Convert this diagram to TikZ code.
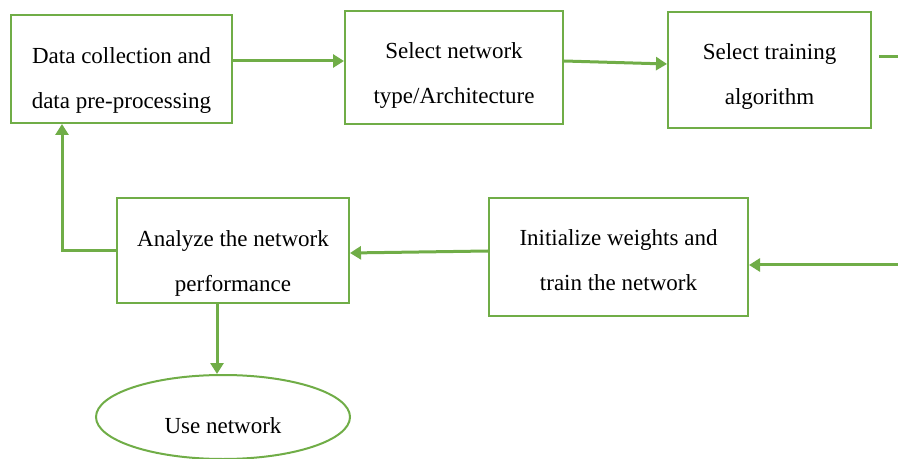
\documentclass[tikz,border=0pt]{standalone}
\usepackage{fontspec}
\setmainfont{Liberation Serif}
\usetikzlibrary{arrows.meta,shapes.geometric}
\definecolor{officegreen}{RGB}{112,173,71}
\newcommand{\dn}[1]{\rule{0pt}{#1}}
\tikzset{
	stepbox/.style={draw=officegreen, line width=1pt, fill=white, inner sep=0pt, align=center,
		font=\fontsize{11.5}{22.5}\selectfont},
	endbox/.style={stepbox, ellipse},
	arr/.style={draw=officegreen, line width=1.5pt, -{Triangle[length=5.5pt,width=6.5pt]}},
	ln/.style={draw=officegreen, line width=1.5pt}
}

\begin{document}
\begin{tikzpicture}[x=0.5pt, y=-0.5pt]
			%%%%% START %%%%%
			\useasboundingbox (0, 0) rectangle (898, 459);
			
			\node[stepbox, minimum width=110.5pt, minimum height=54pt] (collect) at (121.5, 69) {\dn{19pt}Data collection and\\data pre-processing};
			\node[stepbox, minimum width=109pt, minimum height=56.5pt] (select) at (454, 67.5) {\dn{16pt}Select network\\type/Architecture};
			\node[stepbox, minimum width=101.5pt, minimum height=58pt] (algo) at (769.5, 70) {\dn{14pt}Select training\\algorithm};
			
			\node[stepbox, minimum width=116pt, minimum height=52.5pt] (analyze) at (233, 250.5) {\dn{21pt}Analyze the network\\performance};
			\node[stepbox, minimum width=129.5pt, minimum height=59pt] (train) at (618.5, 257) {\dn{11pt}Initialize weights and\\train the network};
			
			\node[endbox, minimum width=127pt, minimum height=42pt] (use) at (223, 417) {\dn{17pt}Use network};
			
			% loose ends at the right border
			\coordinate (outR) at (898, 57);
			\coordinate (inR) at (898, 265);
			
			\draw[arr] ([yshift=4pt]collect.east) -- ([yshift=3.25pt]select.west);
			\draw[arr] ([yshift=3.25pt]select.east) -- ([yshift=3pt]algo.west);
			\draw[ln] ([xshift=3.5pt, yshift=6.5pt]algo.east) -- (outR);
			
			\draw[arr] (inR) -- ([yshift=-4pt]train.east);
			\draw[arr] ([yshift=3pt]train.west) -- ([yshift=-1.25pt]analyze.east);
			\draw[arr] (analyze.west) -| ([xshift=-29.75pt]collect.south);
			
			\draw[arr] ([xshift=-8pt]analyze.south) -- ([xshift=-8pt]analyze.south |- use.north);
			
			%%%%% END %%%%%
		\end{tikzpicture}
\end{document}
